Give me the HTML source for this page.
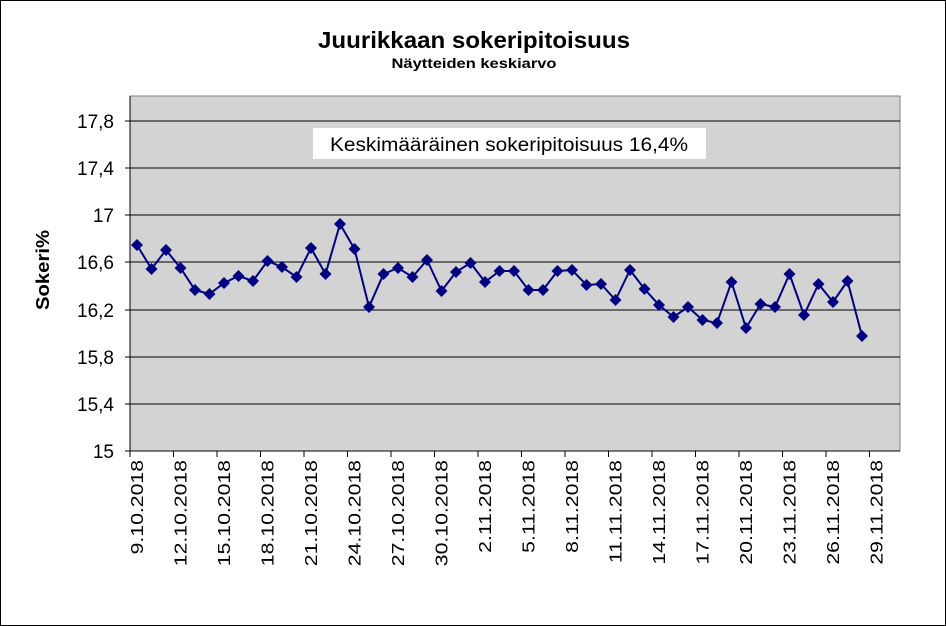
<!DOCTYPE html>
<html><head><meta charset="utf-8"><style>
body{margin:0;background:#fff}
svg{display:block;font-family:"Liberation Sans",Arial,sans-serif}
</style></head><body>
<svg width="946" height="626" viewBox="0 0 946 626">
<rect x="0.5" y="0.5" width="945" height="625" fill="#fff" stroke="#000"/>
<text x="474" y="48" text-anchor="middle" font-size="23" font-weight="bold" textLength="312" lengthAdjust="spacingAndGlyphs">Juurikkaan sokeripitoisuus</text>
<text x="474" y="68" text-anchor="middle" font-size="14" font-weight="bold" textLength="165" lengthAdjust="spacingAndGlyphs">Näytteiden  keskiarvo</text>
<rect x="130" y="96" width="770" height="355" fill="#d3d3d3" stroke="#808080"/>
<g stroke="#000" stroke-width="1">
<line x1="130" y1="121" x2="900" y2="121"/>
<line x1="130" y1="168" x2="900" y2="168"/>
<line x1="130" y1="215" x2="900" y2="215"/>
<line x1="130" y1="262" x2="900" y2="262"/>
<line x1="130" y1="310" x2="900" y2="310"/>
<line x1="130" y1="357" x2="900" y2="357"/>
<line x1="130" y1="404" x2="900" y2="404"/>
<line x1="130" y1="451" x2="900" y2="451"/>
<line x1="130" y1="96" x2="130" y2="451"/>
<line x1="125" y1="121" x2="130" y2="121"/><line x1="125" y1="168" x2="130" y2="168"/><line x1="125" y1="215" x2="130" y2="215"/><line x1="125" y1="262" x2="130" y2="262"/><line x1="125" y1="310" x2="130" y2="310"/><line x1="125" y1="357" x2="130" y2="357"/><line x1="125" y1="404" x2="130" y2="404"/><line x1="125" y1="451" x2="130" y2="451"/>
</g>
<g font-size="19" text-anchor="end">
<text x="114" y="128">17,8</text><text x="114" y="175">17,4</text><text x="114" y="222">17</text><text x="114" y="269">16,6</text><text x="114" y="317">16,2</text><text x="114" y="364">15,8</text><text x="114" y="411">15,4</text><text x="114" y="458">15</text>
</g>
<text transform="translate(49,270) rotate(-90)" text-anchor="middle" font-size="18" font-weight="bold" textLength="80" lengthAdjust="spacingAndGlyphs">Sokeri%</text>
<rect x="313" y="128" width="393" height="31" fill="#fff"/>
<text x="509" y="151" text-anchor="middle" font-size="19" textLength="358" lengthAdjust="spacingAndGlyphs">Keskimääräinen sokeripitoisuus 16,4%</text>
<g id="xt" stroke="#000"></g>
<g id="xl" font-size="18" text-anchor="end"></g>
<polyline id="ln" fill="none" stroke="#000080" stroke-width="2"/>
<g id="mk" fill="#000080"></g>
</svg>
<script>
var ys=[245,269,250,268,290,294,283,276,281,261,267,277,248,274,224,249,307,274,268,277,260,291,272,263,282,271,271,290,290,271,270,285,284,300,270,289,305,317,307,320,323,282,328,304,307,274,315,284,302,281,336];
var ns="http://www.w3.org/2000/svg",pts=[],mk=document.getElementById('mk');
ys.forEach(function(y,i){var x=137+14.5*i;pts.push(x+','+y);
var p=document.createElementNS(ns,'polygon');p.setAttribute('points',x+','+(y-6)+' '+(x+6)+','+y+' '+x+','+(y+6)+' '+(x-6)+','+y);mk.appendChild(p);});
document.getElementById('ln').setAttribute('points',pts.join(' '));
var labs=["9.10.2018","12.10.2018","15.10.2018","18.10.2018","21.10.2018","24.10.2018","27.10.2018","30.10.2018","2.11.2018","5.11.2018","8.11.2018","11.11.2018","14.11.2018","17.11.2018","20.11.2018","23.11.2018","26.11.2018","29.11.2018"];
var xt=document.getElementById('xt'),xl=document.getElementById('xl');
for(var k=0;k<18;k++){var x=130+43.5*k;
var l=document.createElementNS(ns,'line');l.setAttribute('x1',x);l.setAttribute('x2',x);l.setAttribute('y1',451);l.setAttribute('y2',457);xt.appendChild(l);
var t=document.createElementNS(ns,'text');t.setAttribute('transform','translate('+(x+13)+',460) rotate(-90) scale(1.18,1)');t.textContent=labs[k];xl.appendChild(t);}
</script>
</body></html>
